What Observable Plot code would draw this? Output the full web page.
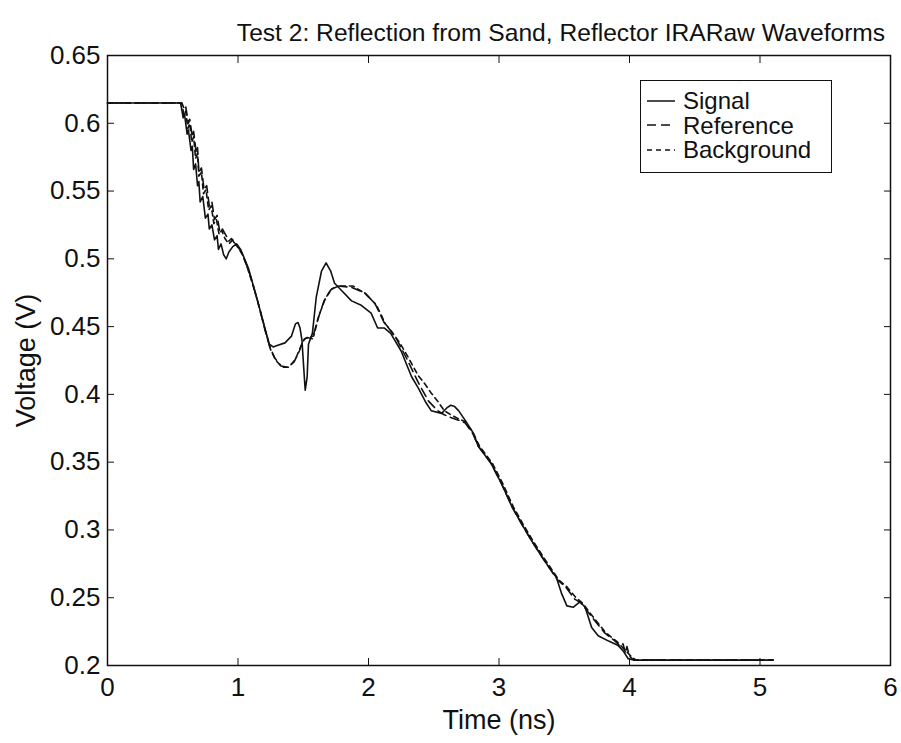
<!DOCTYPE html>
<html>
<head>
<meta charset="utf-8">
<script src="https://cdn.jsdelivr.net/npm/d3@7"></script>
<script src="https://cdn.jsdelivr.net/npm/@observablehq/plot@0.6"></script>
<style>
  html, body { margin: 0; padding: 0; background: #fff; }
  #wrap { position: relative; width: 901px; height: 743px; font-family: "Liberation Sans", Arial, sans-serif; }
  #legend { position: absolute; left: 640px; top: 80px; width: 192px; height: 93px; border: 1.5px solid #111; background: #fff; box-sizing: border-box; }
  .row { position: absolute; left: 0; height: 23px; line-height: 23px; display: flex; align-items: center; font-size: 24px; color: #111; white-space: nowrap; }
  .row svg { margin-left: 6px; margin-right: 8px; }
</style>
</head>
<body>
<div id="wrap"></div>
<script>
const title = "Test 2: Reflection from Sand, Reflector IRARaw Waveforms";
const xLabel = "Time (ns)";
const yLabel = "Voltage (V)";
const seriesNames = ["Signal", "Reference", "Background"];
const seriesDash = [null, "9,5", "5,4"];
const xTicks = [0, 1, 2, 3, 4, 5, 6];
const yTicks = [0.2, 0.25, 0.3, 0.35, 0.4, 0.45, 0.5, 0.55, 0.6, 0.65];

const signalT = [0,0.56,0.58,0.59,0.61,0.62,0.64,0.65,0.66,0.675,0.69,0.70,0.71,0.73,0.75,0.77,0.78,0.80,0.82,0.84,0.85,0.87,0.89,0.91,0.93,0.96,0.99,1.02,1.05,1.08,1.15,1.20,1.24,1.27,1.30,1.36,1.41,1.44,1.46,1.475,1.49,1.50,1.515,1.53,1.54,1.57,1.60,1.64,1.675,1.71,1.74,1.79,1.87,1.94,2.02,2.07,2.12,2.17,2.25,2.33,2.38,2.44,2.48,2.56,2.60,2.63,2.66,2.69,2.74,2.80,2.84,2.94,3.02,3.10,3.17,3.25,3.33,3.40,3.44,3.48,3.52,3.57,3.62,3.66,3.71,3.76,3.84,3.91,3.95,3.99,4.03,5.10];
const signalV = [0.615,0.615,0.604,0.607,0.592,0.595,0.580,0.583,0.566,0.570,0.554,0.557,0.542,0.546,0.530,0.533,0.522,0.525,0.514,0.517,0.507,0.511,0.503,0.500,0.505,0.509,0.511,0.507,0.500,0.493,0.469,0.451,0.437,0.435,0.436,0.438,0.443,0.452,0.453,0.449,0.440,0.425,0.403,0.413,0.437,0.445,0.472,0.491,0.497,0.491,0.482,0.477,0.469,0.466,0.460,0.449,0.449,0.445,0.432,0.413,0.405,0.394,0.388,0.386,0.390,0.392,0.391,0.388,0.381,0.372,0.362,0.349,0.334,0.317,0.305,0.292,0.280,0.270,0.265,0.253,0.244,0.243,0.247,0.243,0.228,0.222,0.218,0.215,0.211,0.205,0.204,0.204];

const referenceT = [0,0.57,0.59,0.60,0.62,0.63,0.65,0.66,0.68,0.69,0.70,0.72,0.74,0.76,0.78,0.80,0.82,0.84,0.86,0.88,0.91,0.93,0.95,0.97,1.00,1.03,1.06,1.10,1.15,1.20,1.24,1.28,1.33,1.38,1.43,1.47,1.50,1.53,1.57,1.61,1.66,1.71,1.76,1.87,1.97,2.05,2.12,2.17,2.22,2.30,2.38,2.46,2.53,2.58,2.63,2.69,2.74,2.80,2.84,2.94,3.02,3.10,3.17,3.25,3.33,3.40,3.45,3.51,3.58,3.63,3.71,3.81,3.89,3.93,3.95,3.97,3.98,4.00,4.02,4.05,5.10];
const referenceV = [0.615,0.615,0.610,0.612,0.600,0.603,0.590,0.594,0.578,0.582,0.564,0.567,0.551,0.554,0.539,0.542,0.529,0.532,0.520,0.522,0.517,0.513,0.515,0.512,0.509,0.504,0.497,0.486,0.469,0.450,0.436,0.427,0.421,0.420,0.424,0.432,0.440,0.442,0.441,0.455,0.469,0.477,0.480,0.479,0.475,0.467,0.453,0.447,0.440,0.425,0.409,0.395,0.388,0.385,0.383,0.381,0.379,0.371,0.362,0.349,0.334,0.317,0.305,0.292,0.280,0.270,0.263,0.258,0.249,0.246,0.236,0.224,0.218,0.214,0.216,0.209,0.214,0.207,0.205,0.204,0.204];

const backgroundT = [0,0.57,0.585,0.60,0.615,0.63,0.645,0.66,0.675,0.69,0.70,0.72,0.735,0.755,0.775,0.795,0.815,0.835,0.855,0.875,0.90,0.93,0.96,0.98,1.01,1.04,1.07,1.12,1.17,1.21,1.25,1.29,1.34,1.39,1.44,1.48,1.51,1.54,1.58,1.62,1.67,1.72,1.78,1.88,1.98,2.06,2.13,2.18,2.24,2.30,2.38,2.43,2.48,2.53,2.58,2.63,2.69,2.74,2.80,2.85,2.95,3.03,3.11,3.18,3.26,3.34,3.41,3.46,3.52,3.59,3.64,3.72,3.82,3.90,3.95,3.98,4.02,4.05,5.10];
const backgroundV = [0.615,0.615,0.606,0.609,0.596,0.600,0.586,0.590,0.574,0.578,0.561,0.564,0.548,0.551,0.536,0.539,0.526,0.529,0.518,0.521,0.515,0.511,0.514,0.511,0.507,0.502,0.494,0.479,0.462,0.447,0.433,0.425,0.420,0.420,0.426,0.435,0.441,0.442,0.443,0.458,0.471,0.478,0.480,0.480,0.474,0.466,0.452,0.446,0.438,0.428,0.414,0.408,0.401,0.395,0.388,0.385,0.382,0.380,0.372,0.362,0.349,0.334,0.317,0.305,0.292,0.280,0.270,0.263,0.258,0.250,0.246,0.236,0.224,0.218,0.213,0.210,0.206,0.204,0.204];

const seriesT = [signalT, referenceT, backgroundT];
const seriesV = [signalV, referenceV, backgroundV];

const FONT = "Liberation Sans, Arial, sans-serif";
const INK = "#111";

const lineMarks = seriesNames.map((name, i) =>
  Plot.line(seriesT[i].map((t, j) => ({t, v: seriesV[i][j]})), {
    x: "t", y: "v", stroke: INK, strokeWidth: 1.6,
    strokeDasharray: seriesDash[i] || undefined
  })
);

const fmt = d => String(+d.toFixed(2));

const chart = Plot.plot({
  width: 901,
  height: 743,
  marginLeft: 107,
  marginRight: 11,
  marginTop: 55,
  marginBottom: 78,
  style: {fontFamily: FONT, color: INK, background: "#fff", overflow: "visible"},
  x: {domain: [0, 6]},
  y: {domain: [0.2, 0.65]},
  marks: [
    ...lineMarks,
    Plot.frame({stroke: INK, strokeWidth: 1.5}),
    Plot.axisX(xTicks, {anchor: "bottom", tickSize: -7, tickPadding: 19, fontSize: 26, label: null, tickFormat: fmt, stroke: INK, fill: INK}),
    Plot.axisX(xTicks, {anchor: "top", tickSize: -7, tickFormat: () => "", label: null, stroke: INK}),
    Plot.axisY(yTicks, {anchor: "left", tickSize: -7, tickPadding: 14, fontSize: 26, label: null, tickFormat: fmt, stroke: INK, fill: INK}),
    Plot.axisY(yTicks, {anchor: "right", tickSize: -7, tickFormat: () => "", label: null, stroke: INK}),
    Plot.text([xLabel], {frameAnchor: "bottom", lineAnchor: "middle", textAnchor: "middle", dy: 55, fontSize: 27, fill: INK, text: d => d}),
    Plot.text([yLabel], {frameAnchor: "left", lineAnchor: "middle", textAnchor: "middle", dx: -81, rotate: -90, fontSize: 27, fill: INK, text: d => d}),
    Plot.text([title], {frameAnchor: "top", lineAnchor: "middle", textAnchor: "middle", dx: 62, dy: -22, fontSize: 24.6, fill: INK, text: d => d})
  ]
});

const wrap = document.getElementById("wrap");
wrap.appendChild(chart);

const legend = document.createElement("div");
legend.id = "legend";
seriesNames.forEach((name, i) => {
  const row = document.createElement("div");
  row.className = "row";
  row.style.top = (8 + i * 24.5) + "px";
  const dash = seriesDash[i] ? ` stroke-dasharray="${seriesDash[i]}"` : "";
  row.innerHTML = `<svg width="28" height="10"><line x1="0" y1="5" x2="28" y2="5" stroke="${INK}" stroke-width="1.5"${dash}/></svg><span>${name}</span>`;
  legend.appendChild(row);
});
wrap.appendChild(legend);
</script>
</body>
</html>
